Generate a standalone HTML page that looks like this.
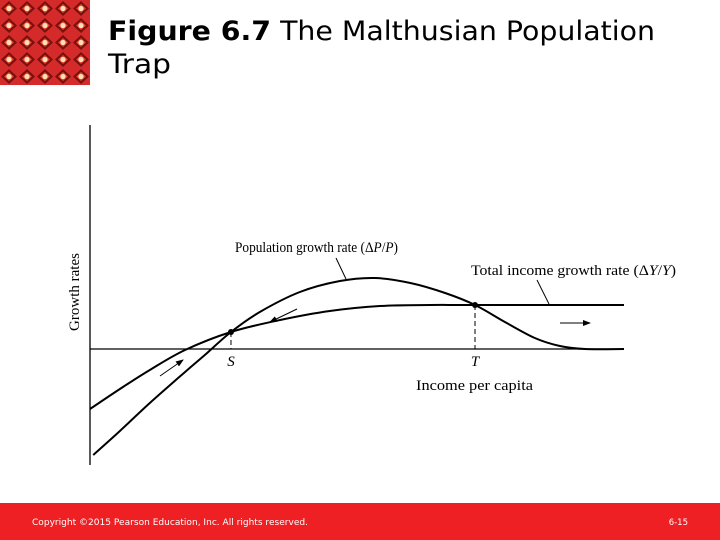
<!DOCTYPE html>
<html><head><meta charset="utf-8"><style>
html,body{margin:0;padding:0;background:#fff;width:720px;height:540px;overflow:hidden}
svg{display:block}
</style></head><body>
<svg width="720" height="540" viewBox="0 0 720 540">
<defs>
<pattern id="tile" x="0" y="0" width="18" height="17" patternUnits="userSpaceOnUse">
<rect width="18" height="17" fill="#d42a2a"/>
<polygon points="9,1 17,8.5 9,16 1,8.5" fill="#7a0f0f"/>
<polygon points="9,4 14,8.5 9,13 4,8.5" fill="#e8402f"/>
<circle cx="9" cy="8.5" r="2.6" fill="#ffe0b0"/>
</pattern>
<marker id="ah" markerWidth="8" markerHeight="6" refX="7" refY="3" orient="auto"><path d="M0,0 L8,3 L0,6z" fill="#000"/></marker>
</defs>
<rect x="0" y="0" width="90" height="85" fill="url(#tile)"/>
<text x="108" y="40" font-family="'DejaVu Sans',sans-serif" font-size="27" fill="#000" textLength="547" lengthAdjust="spacingAndGlyphs"><tspan font-weight="bold">Figure 6.7</tspan>  The Malthusian Population</text>
<text x="108" y="73" font-family="'DejaVu Sans',sans-serif" font-size="27" fill="#000" textLength="63" lengthAdjust="spacingAndGlyphs">Trap</text>

<g id="chart" font-family="'Liberation Serif',serif" fill="#000"></g>

<rect x="0" y="503" width="720" height="37" fill="#ee2024"/>
<text x="32" y="525" font-family="'DejaVu Sans',sans-serif" font-size="8.5" fill="#fff" textLength="276" lengthAdjust="spacingAndGlyphs">Copyright ©2015 Pearson Education, Inc. All rights reserved.</text>
<text x="688" y="525" text-anchor="end" font-family="'DejaVu Sans',sans-serif" font-size="8.5" fill="#fff">6-15</text>
</svg>
<script>
const popIncome = [0.6,5.6,11.2,17.8,21.5,26.4,31.8,39.3,46.8,53.4,60,66.5,72.1,77.7,83.3,88,92.7,100];
const popRate = [-10.6,-8.2,-5.4,-2.3,-0.6,1.7,3.7,5.7,6.8,7.1,6.6,5.6,4.4,2.7,1.1,0.3,0,0];
const incIncome = [0,5.6,11.2,17.8,26.4,35.6,44.9,54.3,63.7,72.1,100];
const incRate = [-6.0,-4.0,-2.1,-0.1,1.7,2.9,3.8,4.3,4.4,4.4,4.4];
const equilibriumIncome = [26.4,72.1];
const equilibriumRate = [1.7,4.4];
const equilibriumLabels = ["S","T"];

const NS="http://www.w3.org/2000/svg";
const g=document.getElementById('chart');
const xs=v=>90+v*5.34;
const ys=v=>349-v*10;
function mk(tag,attrs){const e=document.createElementNS(NS,tag);for(const k in attrs)e.setAttribute(k,attrs[k]);g.appendChild(e);return e;}
function smooth(xa,ya){
  const p=xa.map((x,i)=>[xs(x),ys(ya[i])]);
  let d=`M${p[0][0]},${p[0][1]}`;
  for(let i=0;i<p.length-1;i++){
    const p0=p[i-1]||p[i],p1=p[i],p2=p[i+1],p3=p[i+2]||p2;
    const c1=[p1[0]+(p2[0]-p0[0])/6,p1[1]+(p2[1]-p0[1])/6];
    const c2=[p2[0]-(p3[0]-p1[0])/6,p2[1]-(p3[1]-p1[1])/6];
    d+=` C${c1[0]},${c1[1]} ${c2[0]},${c2[1]} ${p2[0]},${p2[1]}`;
  }
  return d;
}
let e;
e=mk('line',{x1:90,y1:125,x2:90,y2:465,stroke:'#000','stroke-width':1.3});


e=mk('line',{x1:90,y1:ys(0),x2:624,y2:ys(0),stroke:'#000','stroke-width':1.3});


e=mk('path',{d:smooth(popIncome,popRate),fill:'none',stroke:'#000','stroke-width':2});


e=mk('path',{d:smooth(incIncome,incRate),fill:'none',stroke:'#000','stroke-width':2});


equilibriumIncome.forEach((v,i)=>{
  const x=xs(v),y=ys(equilibriumRate[i]);
  let l=mk('line',{x1:x,y1:y,x2:x,y2:ys(0),stroke:'#000','stroke-width':1,'stroke-dasharray':'5,3'});
  
  
  let c=mk('circle',{cx:x,cy:y,r:3,fill:'#000'});
  
  
  let t=mk('text',{x:x,y:ys(0)+17,'text-anchor':'middle','font-size':15,'font-style':'italic'});
  t.textContent=equilibriumLabels[i];
  
  
});
[[160,376,183,360],[297,309,270,322],[560,323,590,323]].forEach(a=>{
  let l=mk('line',{x1:a[0],y1:a[1],x2:a[2],y2:a[3],stroke:'#000','stroke-width':1,'marker-end':'url(#ah)'});
  
  
});
e=mk('line',{x1:336,y1:258,x2:346,y2:279,stroke:'#000','stroke-width':1});


e=mk('line',{x1:537,y1:280,x2:549,y2:304,stroke:'#000','stroke-width':1});


e=mk('text',{x:235,y:252,'font-size':15,textLength:163,lengthAdjust:'spacingAndGlyphs'});
e.innerHTML='Population growth rate (Δ<tspan font-style="italic">P</tspan>/<tspan font-style="italic">P</tspan>)';


e=mk('text',{x:471,y:275,'font-size':15,textLength:205,lengthAdjust:'spacingAndGlyphs'});
e.innerHTML='Total income growth rate (Δ<tspan font-style="italic">Y</tspan>/<tspan font-style="italic">Y</tspan>)';


e=mk('text',{x:416,y:390,'font-size':15,textLength:117,lengthAdjust:'spacingAndGlyphs'});
e.textContent='Income per capita';


e=mk('text',{x:0,y:0,'font-size':15,'text-anchor':'middle',transform:'translate(79,292) rotate(-90)'});
e.textContent='Growth rates';


</script>
</body></html>
